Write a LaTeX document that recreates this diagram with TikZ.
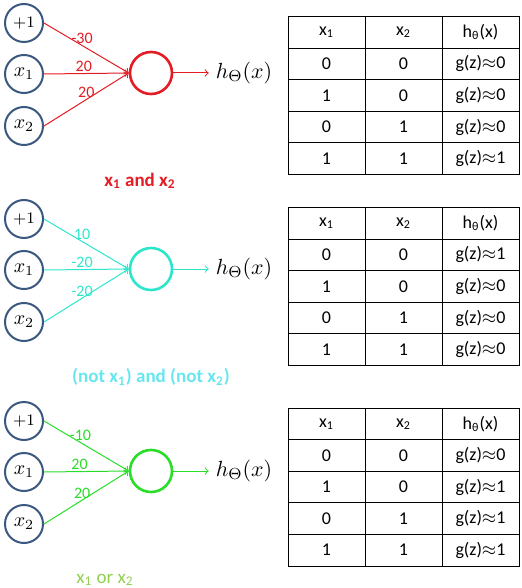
\documentclass[tikz,border=0pt]{standalone}
\usepackage{amsmath, amssymb}
\usepackage{fontspec}
\newfontfamily\lblfont{Carlito}
\usetikzlibrary{matrix,arrows}

\definecolor{inblue}{RGB}{58,88,128}
\definecolor{andred}{RGB}{228,28,36}
\definecolor{norcyan}{RGB}{44,230,204}
\definecolor{norlabel}{RGB}{104,230,240}
\definecolor{orgreen}{RGB}{40,222,40}
\definecolor{orlabel}{RGB}{146,208,80}

\newcommand{\apx}{$\approx$}

\tikzset{
	inunit/.style={circle, draw=inblue, line width=1pt, minimum size=19pt, inner sep=0pt},
	biasunit/.style={inunit, font=\fontsize{8.5}{10}\selectfont},
	outunit/.style={circle, line width=1.3pt, minimum size=21pt, inner sep=0pt},
	hyp/.style={font=\fontsize{11}{13}\selectfont},
	wlabel/.style={font=\lblfont\fontsize{8}{9}\selectfont, inner sep=0.6pt},
	gatename/.style={font=\lblfont\fontsize{9.5}{11}\selectfont},
	truthtab/.style={matrix of nodes, column sep=-0.5pt, row sep=-0.5pt,
		nodes={draw, line width=0.5pt, minimum width=38.5pt, minimum height=15.8pt,
			inner sep=0pt, anchor=center, font=\lblfont\fontsize{9}{10}\selectfont}}
}

\begin{document}
\begin{tikzpicture}[x=0.5pt, y=-0.5pt, >=to]
	\useasboundingbox (0,0) rectangle (522,588);
	% x1 and x2
	\begin{scope}
		\node[biasunit] (b1) at (24,23) {$+1$};
		\node[inunit] (u1) at (24,74) {$x_1$};
		\node[inunit] (v1) at (24,126) {$x_2$};
		\node[outunit, draw=andred] (o1) at (151,73) {};
		\node[hyp] (h1) at (244,73) {$h_\Theta(x)$};
		%
		\draw [->, andred, line width=0.5pt] (b1.east) to node[wlabel, pos=.45, above] (wb1) {-30} (o1.west);
		\draw [->, andred, line width=0.5pt] (u1.east) to node[wlabel, pos=.47, above] (wu1) {20} (o1.west);
		\draw [->, andred, line width=0.5pt] (v1.east) to node[wlabel, pos=.5, above] (wv1) {20} (o1.west);
		\draw [->, andred, line width=0.5pt] (o1.east) to (h1.west);
		%
		\node[gatename, text=andred] (g1) at (140,181) {\bfseries x\textsubscript{1} and x\textsubscript{2}};
		\matrix (tab1) at (403.5,95.5) [truthtab] {
			x\textsubscript{1} & x\textsubscript{2} & h\textsubscript{θ}(x) \\
			0 & 0 & g(z)\apx0 \\
			1 & 0 & g(z)\apx0 \\
			0 & 1 & g(z)\apx0 \\
			1 & 1 & g(z)\apx1 \\
		};
	\end{scope}
	% (not x1) and (not x2)
	\begin{scope}[shift={(0,196)}]
		\node[biasunit] (b2) at (24,23) {$+1$};
		\node[inunit] (u2) at (24,74) {$x_1$};
		\node[inunit] (v2) at (24,126) {$x_2$};
		\node[outunit, draw=norcyan] (o2) at (151,73) {};
		\node[hyp] (h2) at (244,73) {$h_\Theta(x)$};
		%
		\draw [->, norcyan, line width=0.5pt] (b2.east) to node[wlabel, pos=.45, above] (wb2) {10} (o2.west);
		\draw [->, norcyan, line width=0.5pt] (u2.east) to node[wlabel, pos=.45, above] (wu2) {-20} (o2.west);
		\draw [->, norcyan, line width=0.5pt] (v2.east) to node[wlabel, pos=.45, above] (wv2) {-20} (o2.west);
		\draw [->, norcyan, line width=0.5pt] (o2.east) to (h2.west);
		%
		\node[gatename, text=norlabel] (g2) at (151,181) {\bfseries (not x\textsubscript{1}) and (not x\textsubscript{2})};
		\matrix (tab2) at (403.5,90.5) [truthtab] {
			x\textsubscript{1} & x\textsubscript{2} & h\textsubscript{θ}(x) \\
			0 & 0 & g(z)\apx1 \\
			1 & 0 & g(z)\apx0 \\
			0 & 1 & g(z)\apx0 \\
			1 & 1 & g(z)\apx0 \\
		};
	\end{scope}
	% x1 or x2
	\begin{scope}[shift={(0,398)}]
		\node[biasunit] (b3) at (24,23) {$+1$};
		\node[inunit] (u3) at (24,74) {$x_1$};
		\node[inunit] (v3) at (24,126) {$x_2$};
		\node[outunit, draw=orgreen] (o3) at (151,73) {};
		\node[hyp] (h3) at (244,73) {$h_\Theta(x)$};
		%
		\draw [->, orgreen, line width=0.5pt] (b3.east) to node[wlabel, pos=.43, above] (wb3) {-10} (o3.west);
		\draw [->, orgreen, line width=0.5pt] (u3.east) to node[wlabel, pos=.42, above] (wu3) {20} (o3.west);
		\draw [->, orgreen, line width=0.5pt] (v3.east) to node[wlabel, pos=.45, above] (wv3) {20} (o3.west);
		\draw [->, orgreen, line width=0.5pt] (o3.east) to (h3.west);
		%
		\node[gatename, text=orlabel] (g3) at (105,182) {x\textsubscript{1} or x\textsubscript{2}};
		\matrix (tab3) at (403.5,89) [truthtab] {
			x\textsubscript{1} & x\textsubscript{2} & h\textsubscript{θ}(x) \\
			0 & 0 & g(z)\apx0 \\
			1 & 0 & g(z)\apx1 \\
			0 & 1 & g(z)\apx1 \\
			1 & 1 & g(z)\apx1 \\
		};
	\end{scope}
\end{tikzpicture}
\end{document}
